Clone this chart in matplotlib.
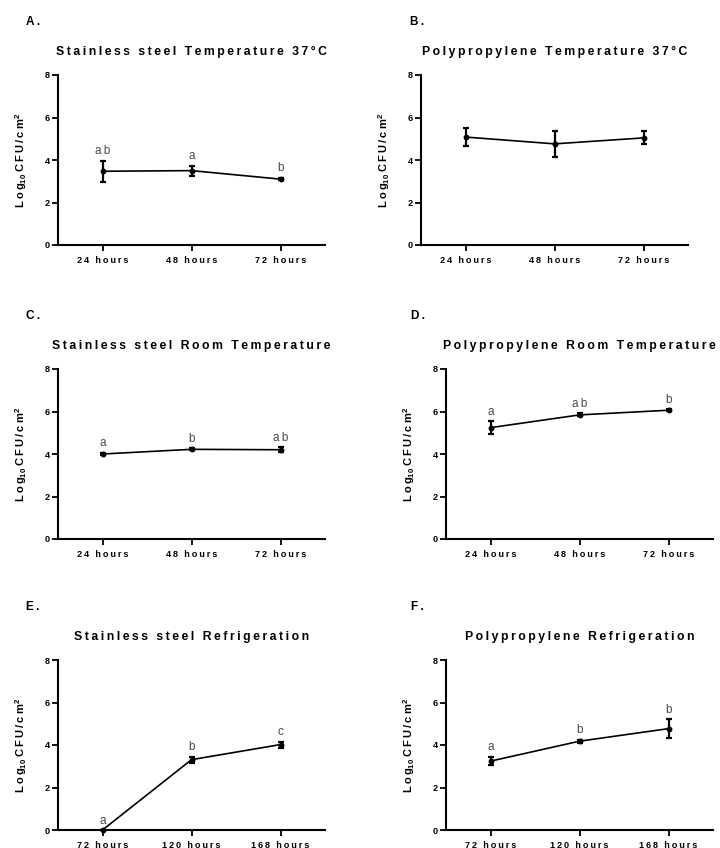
import numpy as np
import matplotlib
matplotlib.use("Agg")
import matplotlib.pyplot as plt

plt.rcParams['font.family'] = ['Liberation Sans', 'DejaVu Sans']
plt.rcParams['mathtext.fontset'] = 'custom'
plt.rcParams['mathtext.rm'] = 'Liberation Sans:bold'
plt.rcParams['mathtext.it'] = 'Liberation Sans:bold'
plt.rcParams['mathtext.bf'] = 'Liberation Sans:bold'

# data (log10 CFU/cm2, mean and error)
times_warm = ['24 hours', '48 hours', '72 hours']
times_cold = ['72 hours', '120 hours', '168 hours']

a_mean = [3.47, 3.50, 3.10]
a_err = [0.49, 0.24, 0.06]
a_let = ['ab', 'a', 'b']

b_mean = [5.08, 4.76, 5.04]
b_err = [0.43, 0.60, 0.31]
b_let = ['', '', '']

c_mean = [4.00, 4.22, 4.20]
c_err = [0.05, 0.05, 0.12]
c_let = ['a', 'b', 'ab']

d_mean = [5.24, 5.84, 6.06]
d_err = [0.30, 0.07, 0.04]
d_let = ['a', 'ab', 'b']

e_mean = [0.0, 3.31, 4.02]
e_err = [0.0, 0.14, 0.14]
e_let = ['a', 'b', 'c']

f_mean = [3.24, 4.18, 4.77]
f_err = [0.20, 0.07, 0.44]
f_let = ['a', 'b', 'b']

TS = '\u2009'


def sp(s):
    return TS.join(s)


W, H = 720, 848
fig = plt.figure(figsize=(W / 100, H / 100), dpi=100)

panels = [
    ('A.', 'Stainless steel Temperature 37°C', times_warm, a_mean, a_err, a_let, 58, 75),
    ('B.', 'Polypropylene Temperature 37°C', times_warm, b_mean, b_err, b_let, 421, 75),
    ('C.', 'Stainless steel Room Temperature', times_warm, c_mean, c_err, c_let, 58, 369),
    ('D.', 'Polypropylene Room Temperature', times_warm, d_mean, d_err, d_let, 446, 369),
    ('E.', 'Stainless steel Refrigeration', times_cold, e_mean, e_err, e_let, 58, 660),
    ('F.', 'Polypropylene Refrigeration', times_cold, f_mean, f_err, f_let, 446, 660),
]
label_x = {58: 26, 421: 410, 446: 411}

aw, ah = 267, 170
ylab = sp('Log') + r'$_{10}$' + TS + sp('CFU/cm') + r'$^{2}$'

for tag, title, cats, mean, err, lets, px, py in panels:
    ax = fig.add_axes([px / W, 1 - (py + ah) / H, aw / W, ah / H])
    x = np.arange(len(cats))
    ax.errorbar(x, mean, yerr=err, color='black', lw=1.2, marker='o', ms=3.2,
                elinewidth=1.6, capsize=2.3, capthick=1.6, clip_on=False, zorder=3)
    for xi, m, e, l in zip(x, mean, err, lets):
        if l:
            ax.annotate(sp(l), (xi, m + e), xytext=(0, 2.5), textcoords='offset points',
                        ha='center', va='bottom', fontsize=8.5, color='#4a4a4a')
    ax.set_xlim(-0.5, 2.5)
    ax.set_ylim(0, 8)
    ax.set_yticks([0, 2, 4, 6, 8])
    ax.set_xticks(x)
    ax.set_xticklabels([sp(c) for c in cats], fontsize=6.6, fontweight='bold')
    ax.set_yticklabels([str(v) for v in [0, 2, 4, 6, 8]], fontsize=6.6, fontweight='bold')
    ax.tick_params(axis='both', direction='out', length=4, width=1.3, pad=2)
    ax.tick_params(axis='x', pad=4)
    for s in ['top', 'right']:
        ax.spines[s].set_visible(False)
    for s in ['left', 'bottom']:
        ax.spines[s].set_linewidth(1.5)
    ax.set_ylabel(ylab, fontsize=8, fontweight='bold', va='center', ha='center')
    ax.yaxis.set_label_coords(-37 / aw, 0.5)
    ax.text(0.5, 1 + 23 / ah, sp(title), transform=ax.transAxes, ha='center',
            va='center', fontsize=8.8, fontweight='bold')
    fig.text(label_x[px] / W, 1 - (py - 53) / H, sp(tag), ha='left', va='center',
             fontsize=8.5, fontweight='bold')

fig.savefig('out.png', dpi=100)
